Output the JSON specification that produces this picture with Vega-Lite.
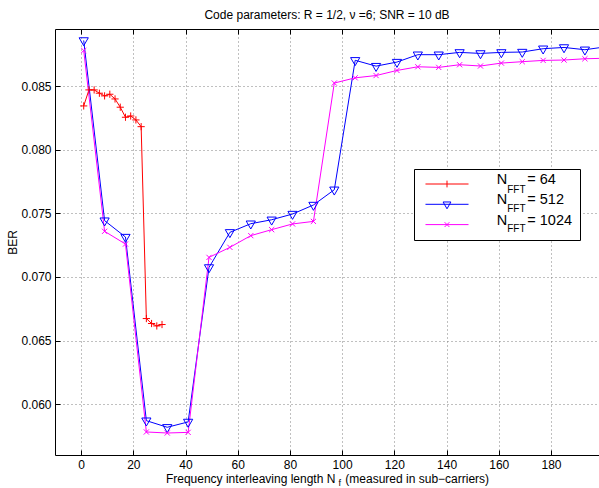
{
  "$schema": "https://vega.github.io/schema/vega-lite/v6.json",
  "width": 544,
  "height": 426,
  "autosize": "none",
  "padding": {"left": 55, "top": 29, "right": 0, "bottom": 33},
  "title": {"text": "Code parameters: R = 1/2, ν =6; SNR = 10 dB", "fontSize": 12, "fontWeight": "normal", "font": "Liberation Sans", "color": "black", "baseline": "alphabetic", "offset": -2},
  "config": {"font": "Liberation Sans", "view": {"stroke": null}},
  "data": {"values": [
    {"series": "64", "x": 1, "ber": 0.08345},
    {"series": "64", "x": 3, "ber": 0.08471},
    {"series": "64", "x": 5, "ber": 0.08471},
    {"series": "64", "x": 7, "ber": 0.08445},
    {"series": "64", "x": 9, "ber": 0.08424},
    {"series": "64", "x": 11, "ber": 0.08437},
    {"series": "64", "x": 13, "ber": 0.08400},
    {"series": "64", "x": 15, "ber": 0.08335},
    {"series": "64", "x": 17, "ber": 0.08256},
    {"series": "64", "x": 19, "ber": 0.08266},
    {"series": "64", "x": 21, "ber": 0.08235},
    {"series": "64", "x": 23, "ber": 0.08182},
    {"series": "64", "x": 25, "ber": 0.06673},
    {"series": "64", "x": 27, "ber": 0.06634},
    {"series": "64", "x": 29, "ber": 0.06615},
    {"series": "64", "x": 31, "ber": 0.06626},
    {"series": "512", "x": 1, "ber": 0.0886},
    {"series": "512", "x": 9, "ber": 0.07443},
    {"series": "512", "x": 17, "ber": 0.07314},
    {"series": "512", "x": 25, "ber": 0.05870},
    {"series": "512", "x": 33, "ber": 0.05818},
    {"series": "512", "x": 41, "ber": 0.05860},
    {"series": "512", "x": 49, "ber": 0.07075},
    {"series": "512", "x": 57, "ber": 0.07351},
    {"series": "512", "x": 65, "ber": 0.07419},
    {"series": "512", "x": 73, "ber": 0.07450},
    {"series": "512", "x": 81, "ber": 0.07495},
    {"series": "512", "x": 89, "ber": 0.07566},
    {"series": "512", "x": 97, "ber": 0.07686},
    {"series": "512", "x": 105, "ber": 0.08704},
    {"series": "512", "x": 113, "ber": 0.08658},
    {"series": "512", "x": 121, "ber": 0.08690},
    {"series": "512", "x": 129, "ber": 0.08748},
    {"series": "512", "x": 137, "ber": 0.08748},
    {"series": "512", "x": 145, "ber": 0.08766},
    {"series": "512", "x": 153, "ber": 0.08758},
    {"series": "512", "x": 161, "ber": 0.08766},
    {"series": "512", "x": 169, "ber": 0.08769},
    {"series": "512", "x": 177, "ber": 0.08795},
    {"series": "512", "x": 185, "ber": 0.08805},
    {"series": "512", "x": 193, "ber": 0.08787},
    {"series": "512", "x": 201, "ber": 0.08810},
    {"series": "1024", "x": 1, "ber": 0.08781},
    {"series": "1024", "x": 9, "ber": 0.07359},
    {"series": "1024", "x": 17, "ber": 0.07259},
    {"series": "1024", "x": 25, "ber": 0.05781},
    {"series": "1024", "x": 33, "ber": 0.05773},
    {"series": "1024", "x": 41, "ber": 0.05778},
    {"series": "1024", "x": 49, "ber": 0.07154},
    {"series": "1024", "x": 57, "ber": 0.07233},
    {"series": "1024", "x": 65, "ber": 0.07325},
    {"series": "1024", "x": 73, "ber": 0.07372},
    {"series": "1024", "x": 81, "ber": 0.07417},
    {"series": "1024", "x": 89, "ber": 0.07437},
    {"series": "1024", "x": 97, "ber": 0.08525},
    {"series": "1024", "x": 105, "ber": 0.08566},
    {"series": "1024", "x": 113, "ber": 0.08584},
    {"series": "1024", "x": 121, "ber": 0.08624},
    {"series": "1024", "x": 129, "ber": 0.08653},
    {"series": "1024", "x": 137, "ber": 0.08648},
    {"series": "1024", "x": 145, "ber": 0.08669},
    {"series": "1024", "x": 153, "ber": 0.08659},
    {"series": "1024", "x": 161, "ber": 0.08682},
    {"series": "1024", "x": 169, "ber": 0.08693},
    {"series": "1024", "x": 177, "ber": 0.08703},
    {"series": "1024", "x": 185, "ber": 0.08706},
    {"series": "1024", "x": 193, "ber": 0.08716},
    {"series": "1024", "x": 201, "ber": 0.08720}
  ]},
  "layer": [
    {
      "mark": {"type": "line", "strokeWidth": 1, "clip": true},
      "encoding": {
        "x": {"field": "x", "type": "quantitative",
          "scale": {"domain": [-10, 198.4], "nice": false, "zero": false},
          "axis": {"orient": "bottom", "values": [0, 20, 40, 60, 80, 100, 120, 140, 160, 180],
            "grid": true, "gridColor": "#808080", "gridDash": [1, 3], "gridWidth": 1,
            "domainColor": "black", "domainWidth": 1, "tickColor": "black", "tickSize": -5, "tickWidth": 1,
            "labelFontSize": 12, "labelColor": "black", "labelPadding": 9, "labelFont": "Liberation Sans",
            "title": "Frequency interleaving length N\u00a0\u00a0 (measured in sub−carriers)",
            "titleFontSize": 12, "titleFontWeight": "normal", "titleColor": "black", "titleFont": "Liberation Sans",
            "titleBaseline": "alphabetic", "titleY": 27, "titleX": 272, "titleAlign": "center"}},
        "y": {"field": "ber", "type": "quantitative",
          "scale": {"domain": [0.056, 0.0895], "nice": false, "zero": false},
          "axis": {"values": [0.06, 0.065, 0.07, 0.075, 0.08, 0.085],
            "grid": true, "gridColor": "#808080", "gridDash": [1, 3], "gridWidth": 1,
            "domainColor": "black", "domainWidth": 1, "tickColor": "black", "tickSize": -5, "tickWidth": 1,
            "labelFontSize": 12, "labelColor": "black", "labelPadding": 9, "labelFont": "Liberation Sans",
            "title": "BER", "titleFontSize": 12, "titleFontWeight": "normal", "titleColor": "black", "titleFont": "Liberation Sans",
            "titleAngle": -90, "titleX": -43, "titleY": 213, "titleAlign": "center", "titleBaseline": "middle"}},
        "color": {"field": "series", "type": "nominal",
          "scale": {"domain": ["64", "512", "1024"], "range": ["#ff0000", "#0000ff", "#ff00ff"]},
          "legend": {"orient": "none", "legendX": 359, "legendY": 140, "title": null, "zindex": 0,
            "padding": 7, "strokeColor": "black", "fillColor": "white",
            "symbolSize": 225, "symbolStrokeWidth": 1, "symbolFillColor": "transparent", "symbolOpacity": 1, "symbolOffset": 18,
            "labelFontSize": 14.5, "labelColor": "black", "labelFont": "Liberation Sans", "labelBaseline": "alphabetic",
            "labelOffset": 41.7, "rowPadding": 0.3,
            "labelExpr": "'N\u00a0\u00a0\u00a0\u00a0 = ' + datum.label"}}
      }
    },
    {
      "mark": {"type": "point", "filled": false, "strokeWidth": 1, "size": 64, "opacity": 0},
      "encoding": {
        "x": {"field": "x", "type": "quantitative",
          "axis": {"orient": "top", "values": [0, 20, 40, 60, 80, 100, 120, 140, 160, 180],
            "grid": false, "labels": false,
            "domainColor": "black", "domainWidth": 1, "tickColor": "black", "tickSize": -5, "tickWidth": 1,
            "title": "f", "titleFontSize": 9, "titleFontWeight": "normal", "titleColor": "black", "titleFont": "Liberation Sans",
            "titleBaseline": "alphabetic", "titleAlign": "left", "titleX": 283, "titleY": 456, "titleAngle": 0}},
        "y": {"field": "ber", "type": "quantitative"},
        "color": {"field": "series", "type": "nominal"},
        "shape": {"field": "series", "type": "nominal",
          "scale": {"domain": ["64", "512", "1024"], "range": [
            "M-2.87,-0.8L-2.87,-0.8M-2.87,0.8L-2.87,0.8M-2.87,0L2.87,0M0,-0.45L0,0.45",
            "M-2.87,-0.8L-2.87,-0.8M-2.87,0.8L-2.87,0.8M-2.87,0L2.87,0M-0.52,-0.31L0.52,-0.31L0,0.6Z",
            "M-2.87,-0.8L-2.87,-0.8M-2.87,0.8L-2.87,0.8M-2.87,0L2.87,0M-0.32,-0.32L0.32,0.32M-0.32,0.32L0.32,-0.32"]},
          "legend": null}
      }
    },
    {
      "transform": [{"filter": "datum.series === '64'"}],
      "mark": {"type": "point", "filled": false, "strokeWidth": 1, "size": 64, "clip": true, "color": "#ff0000", "opacity": 1,
        "shape": "M-0.9,0L0.9,0M0,-0.9L0,0.9"},
      "encoding": {
        "x": {"field": "x", "type": "quantitative",
          "axis": {"orient": "top", "domain": false, "ticks": false, "labels": false, "grid": false,
            "title": ["FFT", "FFT", "FFT"], "titleFontSize": 10, "titleFontWeight": "normal", "titleColor": "black", "titleFont": "Liberation Sans",
            "titleLineHeight": 19.7, "titleBaseline": "alphabetic", "titleAlign": "left", "titleAngle": 0,
            "titleX": 451.7, "titleY": 163, "zindex": 2}},
        "y": {"field": "ber", "type": "quantitative"}
      }
    },
    {
      "transform": [{"filter": "datum.series === '512'"}],
      "mark": {"type": "point", "filled": false, "strokeWidth": 1, "size": 64, "clip": true, "color": "#0000ff", "opacity": 1,
        "shape": "M-1.15,-0.67L1.15,-0.67L0,1.33Z"},
      "encoding": {
        "x": {"field": "x", "type": "quantitative", "axis": null},
        "y": {"field": "ber", "type": "quantitative"}
      }
    },
    {
      "transform": [{"filter": "datum.series === '1024'"}],
      "mark": {"type": "point", "filled": false, "strokeWidth": 1, "size": 64, "clip": true, "color": "#ff00ff", "opacity": 1,
        "shape": "M-0.65,-0.65L0.65,0.65M-0.65,0.65L0.65,-0.65"},
      "encoding": {
        "x": {"field": "x", "type": "quantitative", "axis": null},
        "y": {"field": "ber", "type": "quantitative"}
      }
    }
  ],
  "resolve": {"axis": {"x": "independent"}}
}
